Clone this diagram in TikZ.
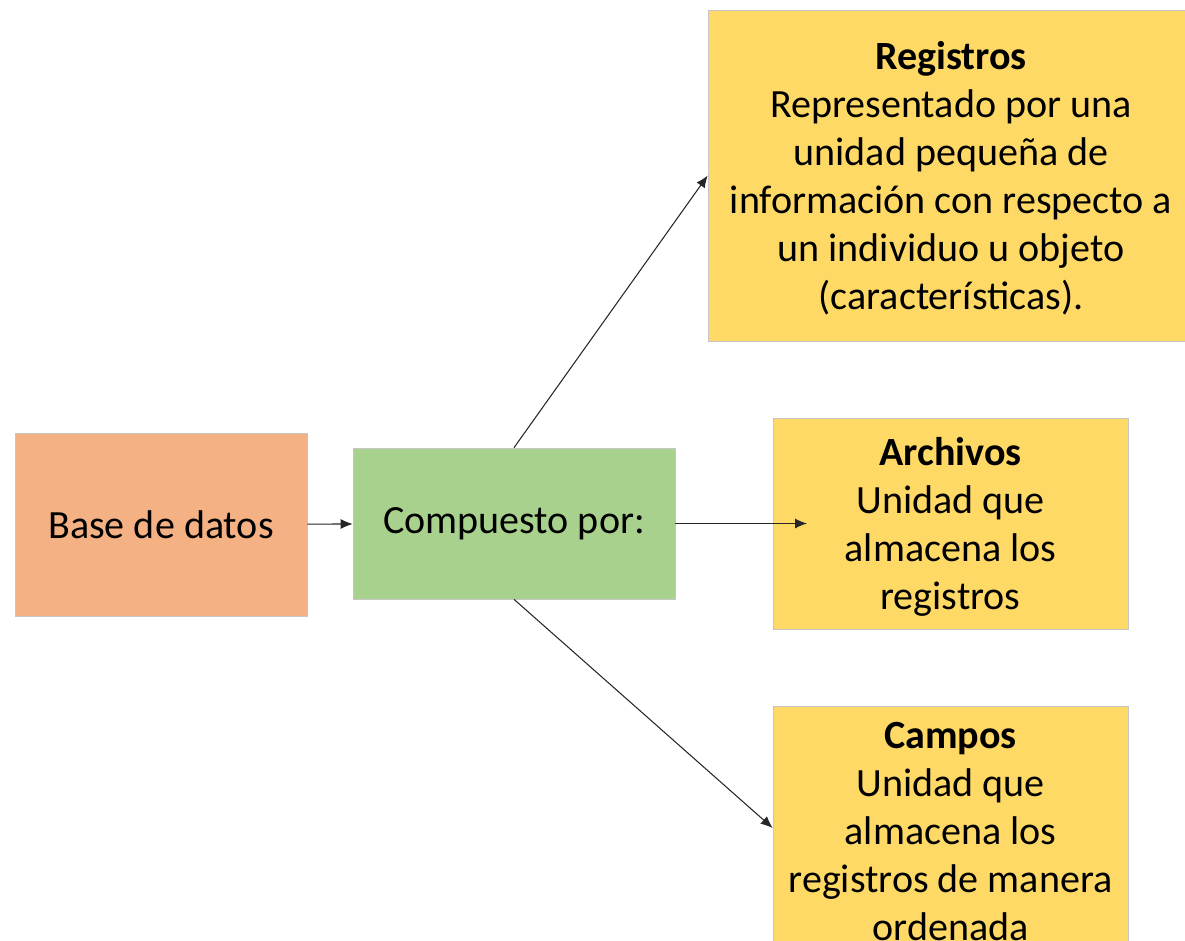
\documentclass[tikz,border=0pt]{standalone}
\usepackage{fontspec}
\setmainfont{Carlito}
\usetikzlibrary{arrows.meta}
\definecolor{salmon}{HTML}{F4B183}
\definecolor{verde}{HTML}{A9D18E}
\definecolor{amarillo}{HTML}{FFD966}
\newcommand{\tope}{\rule{0pt}{0.68cm}}
\tikzset{every picture/.style = {x=0.02cm, y=-0.02cm}}
\tikzset{caja/.style = {draw=gray!45, thin, inner sep=0, align=center, font=\fontsize{22.8}{27.3}\selectfont}}
\tikzset{flecha/.style = {-{Latex[length=0.24cm, width=0.2cm]}, black!85, semithick}}

\begin{document}
\begin{tikzpicture}
  \clip (0,0) rectangle (1185,940);
  \node[caja, fill=salmon, minimum width=5.84cm, minimum height=3.66cm] (base) at (161,524.5) {Base de datos};
  \node[caja, fill=verde, minimum width=6.44cm, minimum height=3.02cm] (comp) at (514,523.5) {Compuesto por:};
  \node[caja, fill=amarillo, minimum width=9.72cm, minimum height=6.62cm] (reg) at (951,175.5)
    {\tope\textbf{Registros}\\Representado por una\\unidad pequeña de\\información con respecto a\\un individuo u objeto\\(características).};
  \node[caja, fill=amarillo, minimum width=7.1cm, minimum height=4.22cm] (arch) at (950.5,523.5)
    {\tope\textbf{Archivos}\\Unidad que\\almacena los\\registros};
  \node[caja, fill=amarillo, minimum width=7.1cm, minimum height=4.88cm] (campos) at (950.5,828)
    {\tope\textbf{Campos}\\Unidad que\\almacena los\\registros de manera\\ordenada};
  \coordinate (puntaArch) at (807,523.5);
  \draw[flecha] (base) -- (comp);
  \draw[flecha] (comp.north) -- (reg.west);
  \draw[flecha] (comp.east) -- (puntaArch);
  \draw[flecha] (comp.south) -- (campos.west);
\end{tikzpicture}
\end{document}
